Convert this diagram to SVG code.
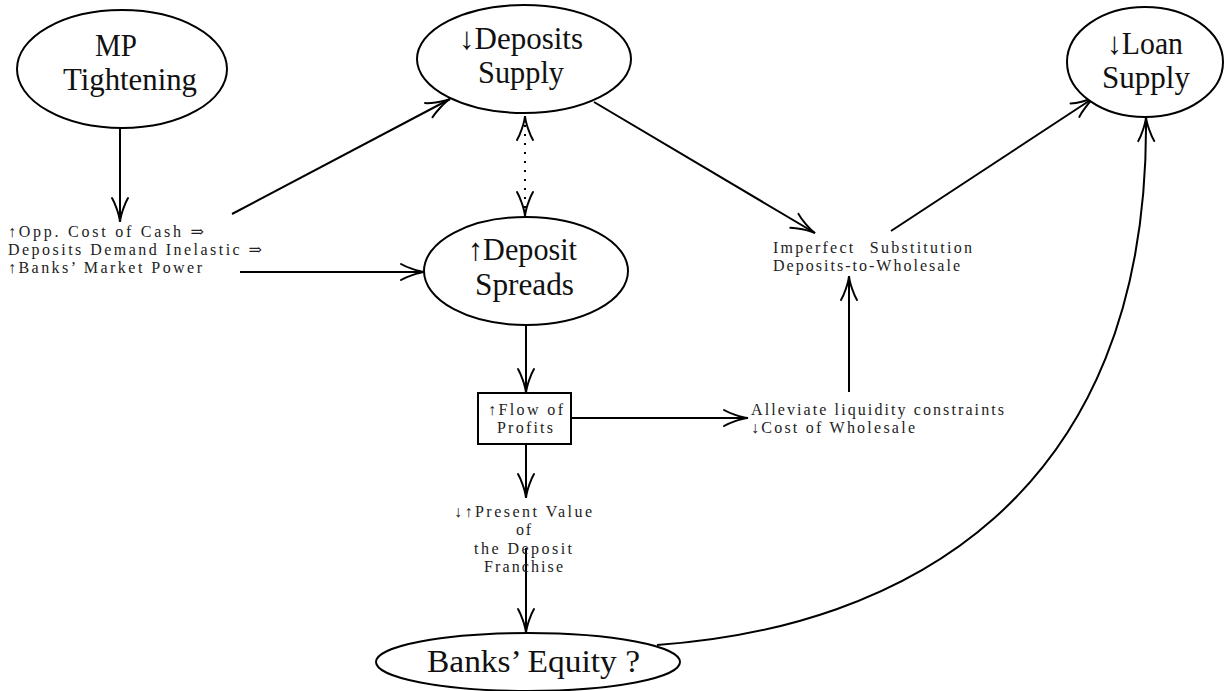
<svg xmlns="http://www.w3.org/2000/svg" width="1229" height="691" viewBox="0 0 1229 691">
<defs>
<marker id="ah" markerUnits="userSpaceOnUse" markerWidth="32" markerHeight="22" viewBox="-28 -11 32 22" refX="0" refY="0" orient="auto-start-reverse" overflow="visible">
<path d="M -24 -8 C -19 -5, -7 -0.6, 0 0 C -7 0.6, -19 5, -24 8" fill="none" stroke="#000" stroke-width="2" stroke-linecap="round"/>
</marker>
<style>
.nd{fill:#fff;stroke:#000;stroke-width:2}
.big{font-family:"Liberation Serif","DejaVu Serif",serif;font-size:31px;fill:#111}
.sm{font-family:"Liberation Serif","DejaVu Serif",serif;font-size:16px;fill:#222}
.ln{fill:none;stroke:#000;stroke-width:2;marker-end:url(#ah)}
</style>
</defs>
<rect width="1229" height="691" fill="#fff"/>
<g id="connectors">
<path class="ln" d="M 120 128 L 120 222"/>
<path class="ln" d="M 232 214 L 450 99"/>
<path class="ln" d="M 240 272 L 425 272"/>
<path class="ln" d="M 525 116 L 525 216" stroke-dasharray="2 7" style="marker-start:url(#ah)"/>
<path class="ln" d="M 526 325 L 526 393"/>
<path class="ln" d="M 571 418 L 748 418"/>
<path class="ln" d="M 526 444 L 526 498"/>
<path class="ln" d="M 526 548 L 526 633"/>
<path class="ln" d="M 849 392 L 849 276"/>
<path class="ln" d="M 594 102 L 815 233"/>
<path class="ln" d="M 891 231 L 1095 97"/>
<path class="ln" d="M 657 645 C 900 628, 1150 500, 1146 117"/>
</g>
<g id="mp">
<ellipse class="nd" cx="122" cy="69" rx="105" ry="59"/>
<text class="big" x="95" y="56" textLength="42" lengthAdjust="spacingAndGlyphs">MP</text>
<text class="big" x="63" y="90" textLength="134" lengthAdjust="spacingAndGlyphs">Tightening</text>
</g>
<g id="deposits-supply">
<ellipse class="nd" cx="524" cy="59" rx="107" ry="54"/>
<text class="big" x="459" y="49" textLength="124" lengthAdjust="spacingAndGlyphs">↓Deposits</text>
<text class="big" x="478" y="83" textLength="86" lengthAdjust="spacingAndGlyphs">Supply</text>
</g>
<g id="loan-supply">
<ellipse class="nd" cx="1145" cy="62" rx="78" ry="55"/>
<text class="big" x="1107" y="54" textLength="76" lengthAdjust="spacingAndGlyphs">↓Loan</text>
<text class="big" x="1102" y="88" textLength="88" lengthAdjust="spacingAndGlyphs">Supply</text>
</g>
<g id="opp-cost">
<text class="sm" x="8" y="237" textLength="196" lengthAdjust="spacing">↑Opp. Cost of Cash ⇒</text>
<text class="sm" x="8" y="255" textLength="254" lengthAdjust="spacing">Deposits Demand Inelastic ⇒</text>
<text class="sm" x="8" y="273" textLength="194" lengthAdjust="spacing">↑Banks’ Market Power</text>
</g>
<g id="deposit-spreads">
<ellipse class="nd" cx="526" cy="271" rx="102" ry="54"/>
<text class="big" x="468" y="260" textLength="109" lengthAdjust="spacingAndGlyphs">↑Deposit</text>
<text class="big" x="475" y="295" textLength="99" lengthAdjust="spacingAndGlyphs">Spreads</text>
</g>
<g id="imperfect">
<text class="sm" x="773" y="253" textLength="199" lengthAdjust="spacing" word-spacing="8">Imperfect Substitution</text>
<text class="sm" x="773" y="271" textLength="187" lengthAdjust="spacing">Deposits-to-Wholesale</text>
</g>
<g id="flow-profits">
<rect class="nd" x="478" y="393" width="93" height="51"/>
<text class="sm" x="488" y="415" textLength="75" lengthAdjust="spacing">↑Flow of</text>
<text class="sm" x="497" y="433" textLength="56" lengthAdjust="spacing">Profits</text>
</g>
<g id="alleviate">
<text class="sm" x="751" y="415" textLength="253" lengthAdjust="spacing">Alleviate liquidity constraints</text>
<text class="sm" x="751" y="433" textLength="164" lengthAdjust="spacing">↓Cost of Wholesale</text>
</g>
<g id="present-value">
<text class="sm" x="454" y="517" textLength="138" lengthAdjust="spacing">↓↑Present Value</text>
<text class="sm" x="516" y="535" textLength="15" lengthAdjust="spacing">of</text>
<text class="sm" x="474" y="554" textLength="98" lengthAdjust="spacing">the Deposit</text>
<text class="sm" x="484" y="572" textLength="79" lengthAdjust="spacing">Franchise</text>
</g>
<g id="banks-equity">
<ellipse class="nd" cx="528" cy="662" rx="152" ry="29"/>
<text class="big" x="427" y="672" textLength="213" lengthAdjust="spacingAndGlyphs">Banks’ Equity ?</text>
</g>
</svg>
